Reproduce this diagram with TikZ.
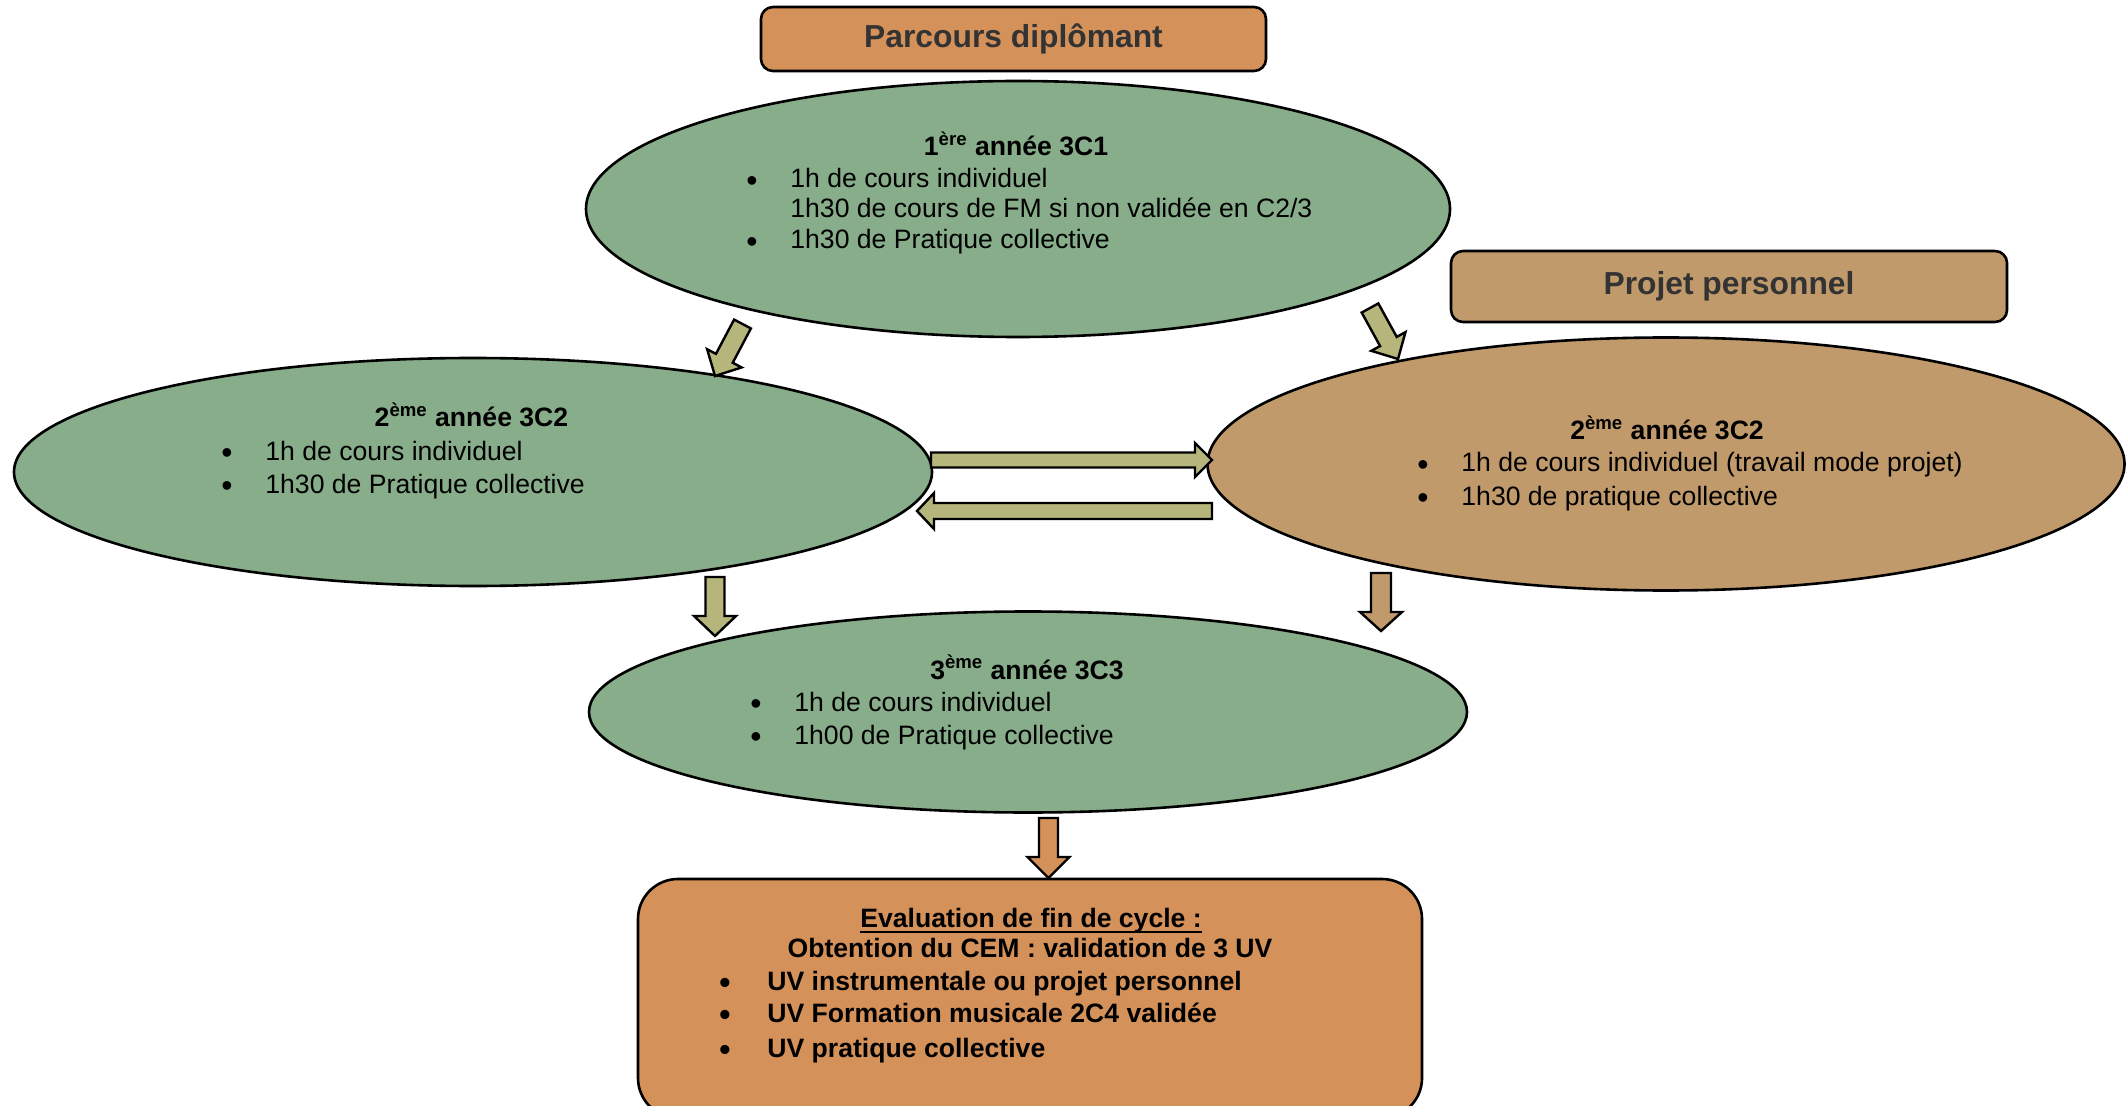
\documentclass[tikz,border=0pt]{standalone}
\usepackage{fontspec}
\setmainfont{Liberation Sans}
\usetikzlibrary{shapes.geometric,calc}
\definecolor{sage}{HTML}{87AD8A}
\definecolor{projbrown}{HTML}{C19A6B}
\definecolor{clay}{HTML}{D4915A}
\definecolor{khaki}{HTML}{B5B57C}
\definecolor{titlegray}{HTML}{333333}
\newcommand\bul[1][22pt]{\llap{\makebox[#1][l]{\smash{\raisebox{-1.6pt}{\fontsize{16pt}{16pt}\selectfont\textbullet}}}}}
\newcommand\uln[1]{\setbox0\hbox{#1}\rlap{\rule[-3pt]{\wd0}{1pt}}\box0}
\begin{document}
\begin{tikzpicture}[x=0.5pt,y=-0.5pt]
                \tikzset{
                    year/.style={draw, ellipse, line width=1.3pt, inner sep=0pt},
                    banner/.style={draw, rounded corners=6pt, line width=1.3pt, inner sep=0pt, font=\fontsize{15.9pt}{19pt}\selectfont\bfseries, text=titlegray},
                    evalbox/.style={draw, rounded corners=20pt, line width=1.3pt, inner sep=0pt},
                    head/.style={anchor=base, inner sep=0pt, font=\fontsize{13.3pt}{16pt}\selectfont\bfseries},
                    item/.style={anchor=base west, inner sep=0pt, font=\fontsize{13.3pt}{16pt}\selectfont},
                    bitem/.style={item, font=\fontsize{13.3pt}{16pt}\selectfont\bfseries},
                    blk/.style={draw, line width=1.2pt, line join=miter}
                }
                \useasboundingbox (0,0) rectangle (2128,1106);

                \node[banner, fill=clay, minimum width=252.5pt, minimum height=32pt, text height=11.6pt, text depth=3.4pt] (parcours) at (1013.5,39) {Parcours diplômant};
                \node[banner, fill=projbrown, minimum width=278pt, minimum height=35.5pt, text height=11.6pt, text depth=3.4pt] (projet) at (1729,286.5) {Projet personnel};

                \node[year, fill=sage, minimum width=432pt, minimum height=128pt] (c1) at (1018,209) {};
                \node[year, fill=sage, minimum width=459pt, minimum height=114pt] (c2a) at (473,472) {};
                \node[year, fill=projbrown, minimum width=458.5pt, minimum height=126.5pt] (c2b) at (1666,464) {};
                \node[year, fill=sage, minimum width=439pt, minimum height=100.5pt] (c3) at (1028,712) {};
                \node[evalbox, fill=clay, minimum width=392pt, minimum height=119.5pt] (cem) at (1030,998.5) {};

                % texts of the years
                \node[head] (c1h) at (1016,156) {1\textsuperscript{ère} année 3C1};
                \node[item] (c1i1) at (790,188) {\bul 1h de cours individuel};
                \node[item] (c1i2) at (790,218) {1h30 de cours de FM si non validée en C2/3};
                \node[item] (c1i3) at (790,249) {\bul 1h30 de Pratique collective};

                \node[head] (c2ah) at (471.5,427) {2\textsuperscript{ème} année 3C2};
                \node[item] (c2ai1) at (265,460) {\bul 1h de cours individuel};
                \node[item] (c2ai2) at (265,493) {\bul 1h30 de Pratique collective};

                \node[head] (c2bh) at (1667,440) {2\textsuperscript{ème} année 3C2};
                \node[item] (c2bi1) at (1461,472) {\bul 1h de cours individuel (travail mode projet)};
                \node[item] (c2bi2) at (1461,505) {\bul 1h30 de pratique collective};

                \node[head] (c3h) at (1027,679) {3\textsuperscript{ème} année 3C3};
                \node[item] (c3i1) at (794,711) {\bul 1h de cours individuel};
                \node[item] (c3i2) at (794,744) {\bul 1h00 de Pratique collective};

                % evaluation
                \node[head] (cemh) at (1031,927) {\uln{Evaluation de fin de cycle :}};
                \node[head] (cems) at (1030,957) {Obtention du CEM : validation de 3 UV};
                \node[bitem] (cemi1) at (767,990) {\bul[24pt]UV instrumentale ou projet personnel};
                \node[bitem] (cemi2) at (767,1022) {\bul[24pt]UV Formation musicale 2C4 validée};
                \node[bitem] (cemi3) at (767,1057) {\bul[24pt]UV pratique collective};

                % block arrows
                \coordinate (a1s) at (742.5,324); \coordinate (a1t) at (715,376);
                \coordinate (a2s) at (1370,308);  \coordinate (a2t) at (1398,359);
                \coordinate (a3s) at (931,460);   \coordinate (a3t) at (1212,460);
                \coordinate (a4s) at (1212,511);  \coordinate (a4t) at (917,511);
                \coordinate (a5s) at (715,577);   \coordinate (a5t) at (715,636);
                \coordinate (a6s) at (1381,573);  \coordinate (a6t) at (1381,631);
                \coordinate (a7s) at (1048.5,818); \coordinate (a7t) at (1048.5,878);
                \foreach \src/\dst/\col/\sw/\hw/\hl in {%
                    a1s/a1t/khaki/19/39/20, a2s/a2t/khaki/19/39/20,
                    a3s/a3t/khaki/15/34/17, a4s/a4t/khaki/16/36/17,
                    a5s/a5t/khaki/19/42/20, a6s/a6t/projbrown/20/42/19,
                    a7s/a7t/clay/19/42/21%
                }{
                \coordinate (hb) at ($(\dst)!\hl*0.5pt!(\src)$);
                \filldraw[blk, fill=\col] ($(\src)!\sw*0.25pt!90:(\dst)$) -- ($(hb)!\sw*0.25pt!90:(\dst)$)
                    -- ($(hb)!\hw*0.25pt!90:(\dst)$) -- (\dst) -- ($(hb)!\hw*0.25pt!-90:(\dst)$)
                    -- ($(hb)!\sw*0.25pt!-90:(\dst)$) -- ($(\src)!\sw*0.25pt!-90:(\dst)$) -- cycle;
                }
            \end{tikzpicture}
\end{document}
